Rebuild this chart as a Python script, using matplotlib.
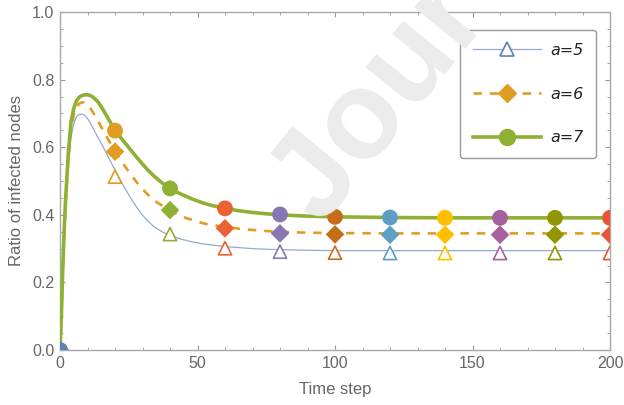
import matplotlib
matplotlib.use("Agg")
import matplotlib.pyplot as plt
from matplotlib.ticker import MultipleLocator
from matplotlib.lines import Line2D

plt.rcParams['font.family'] = ['Liberation Sans', 'DejaVu Sans']

# ---- data ----
t_curve = [0, 0.5, 1, 1.5, 2, 2.5, 3,
           4, 5, 6, 7, 8, 9, 10, 11, 12, 13, 14, 15, 16, 17, 18, 19, 20,
           22, 24, 26, 28, 30, 32, 34, 36, 38, 40, 42, 44, 46, 48, 50, 52,
           55, 60, 65, 70, 75, 80,
           90, 100, 120, 140, 160, 180, 200]
curve_a5 = [0, 0.10, 0.23, 0.33, 0.42, 0.49, 0.55,
            0.63, 0.67, 0.69, 0.697, 0.698, 0.694, 0.685, 0.672, 0.657, 0.641, 0.626, 0.611,
            0.596, 0.58, 0.564, 0.548, 0.532,
            0.502, 0.473, 0.446, 0.421, 0.399, 0.381, 0.366, 0.355, 0.346, 0.339, 0.333,
            0.328, 0.324, 0.32, 0.317, 0.314,
            0.311, 0.306, 0.303, 0.300, 0.298, 0.297,
            0.295, 0.294, 0.294, 0.294, 0.294, 0.294, 0.294]
curve_a6 = [0, 0.10, 0.235, 0.34, 0.43, 0.50, 0.56,
            0.65, 0.695, 0.718, 0.729, 0.733, 0.732, 0.726, 0.716, 0.703, 0.69, 0.675, 0.66,
            0.645, 0.63, 0.616, 0.602, 0.589,
            0.563, 0.539, 0.517, 0.495, 0.476, 0.459, 0.444, 0.433, 0.423, 0.414, 0.405,
            0.397, 0.39, 0.385, 0.38, 0.375,
            0.370, 0.364, 0.359, 0.355, 0.352, 0.350,
            0.347, 0.346, 0.345, 0.345, 0.345, 0.345, 0.345]
curve_a7 = [0, 0.10, 0.24, 0.35, 0.44, 0.51, 0.58,
            0.675, 0.715, 0.737, 0.748, 0.753, 0.755, 0.755, 0.753, 0.748, 0.741, 0.732, 0.72,
            0.706, 0.692, 0.678, 0.664, 0.650,
            0.629, 0.609, 0.589, 0.569, 0.550, 0.532, 0.516, 0.502, 0.489, 0.478, 0.469,
            0.461, 0.454, 0.447, 0.441, 0.435,
            0.428, 0.419, 0.412, 0.407, 0.403, 0.400,
            0.396, 0.394, 0.392, 0.391, 0.391, 0.391, 0.391]

t_mark = [0, 20, 40, 60, 80, 100, 120, 140, 160, 180, 200]
mark_a5 = [0, 0.513, 0.343, 0.301, 0.291, 0.288, 0.287, 0.287, 0.287, 0.287, 0.287]
mark_a6 = [0, 0.587, 0.414, 0.360, 0.345, 0.342, 0.341, 0.341, 0.341, 0.341, 0.341]
mark_a7 = [0, 0.649, 0.478, 0.419, 0.401, 0.394, 0.392, 0.391, 0.391, 0.391, 0.391]
mark_colors = ['#5E81B5', '#E19C24', '#8FB032', '#EB6235', '#8778B3', '#C56E1A',
               '#5D9EC7', '#FFBF00', '#A5609D', '#929600', '#E95536']

labels = ['a=5', 'a=6', 'a=7']
x_ticks = [0, 50, 100, 150, 200]
y_ticks = [0.0, 0.2, 0.4, 0.6, 0.8, 1.0]

# ---- figure ----
fig = plt.figure(figsize=(6.24, 4.05), dpi=100)
ax = fig.add_axes([60/624, 1-350/405, 550/624, 338/405])
ax.patch.set_alpha(0)

# watermark
fig.text(320/624, 1-226/405, 'Jour', rotation=51, rotation_mode='anchor',
         ha='left', va='baseline', fontsize=90, fontweight='bold', color='#ebebeb',
         zorder=0, family='Liberation Sans')

ax.plot(t_curve, curve_a5, color='#93aacf', lw=0.9, zorder=2)
ax.plot(t_curve, curve_a6, color='#E19C24', lw=1.9, ls=(0, (3.2, 3.0)), zorder=3)
ax.plot(t_curve, curve_a7, color='#8FB032', lw=2.6, zorder=4)

ax.scatter(t_mark, mark_a5, marker='^', s=90, facecolors='white', edgecolors=mark_colors,
           linewidths=1.2, zorder=5)
ax.scatter(t_mark, mark_a6, marker='D', s=90, c=mark_colors, linewidths=0, zorder=6)
ax.scatter(t_mark, mark_a7, marker='o', s=130, c=mark_colors, linewidths=0, zorder=7)

ax.set_xlim(0, 200)
ax.set_ylim(0, 1.0)
ax.set_xticks(x_ticks)
ax.set_yticks(y_ticks)
ax.set_yticklabels([f'{v:.1f}' for v in y_ticks])
ax.xaxis.set_minor_locator(MultipleLocator(10))
ax.yaxis.set_minor_locator(MultipleLocator(0.05))
ax.tick_params(which='both', direction='in', top=True, right=True, color='#999999',
               labelcolor='#666666', labelsize=11.5, pad=4)
ax.tick_params(which='major', length=3.5, width=0.8)
ax.tick_params(which='minor', length=2, width=0.6)
for s in ax.spines.values():
    s.set_color('#a8a8a8')
    s.set_linewidth(1.0)

ax.set_xlabel('Time step', color='#666666', fontsize=12, labelpad=8)
ax.set_ylabel('Ratio of infected nodes', color='#666666', fontsize=12, labelpad=6)

handles = [
    Line2D([], [], color='#93aacf', lw=0.9, marker='^', ms=9.5, mfc='white', mec='#5E81B5', mew=1.2),
    Line2D([], [], color='#E19C24', lw=1.9, ls=(0, (3.2, 3.0)), marker='D', ms=9, mfc='#E19C24', mec='#E19C24'),
    Line2D([], [], color='#8FB032', lw=2.6, marker='o', ms=11.5, mfc='#8FB032', mec='#8FB032'),
]
leg = ax.legend(handles, labels, loc='upper right', bbox_to_anchor=((596-60)/550, (350-30)/338),
                borderaxespad=0, frameon=True, fancybox=True, edgecolor='#999999',
                prop={'style': 'italic', 'size': 11.5, 'family': 'DejaVu Sans'},
                handlelength=4.3, handletextpad=0.55,
                labelspacing=1.8, borderpad=0.8, framealpha=1)
leg.get_frame().set_linewidth(1.0)
for txt in leg.get_texts():
    txt.set_color('#222222')

fig.savefig('out.png', dpi=100)
